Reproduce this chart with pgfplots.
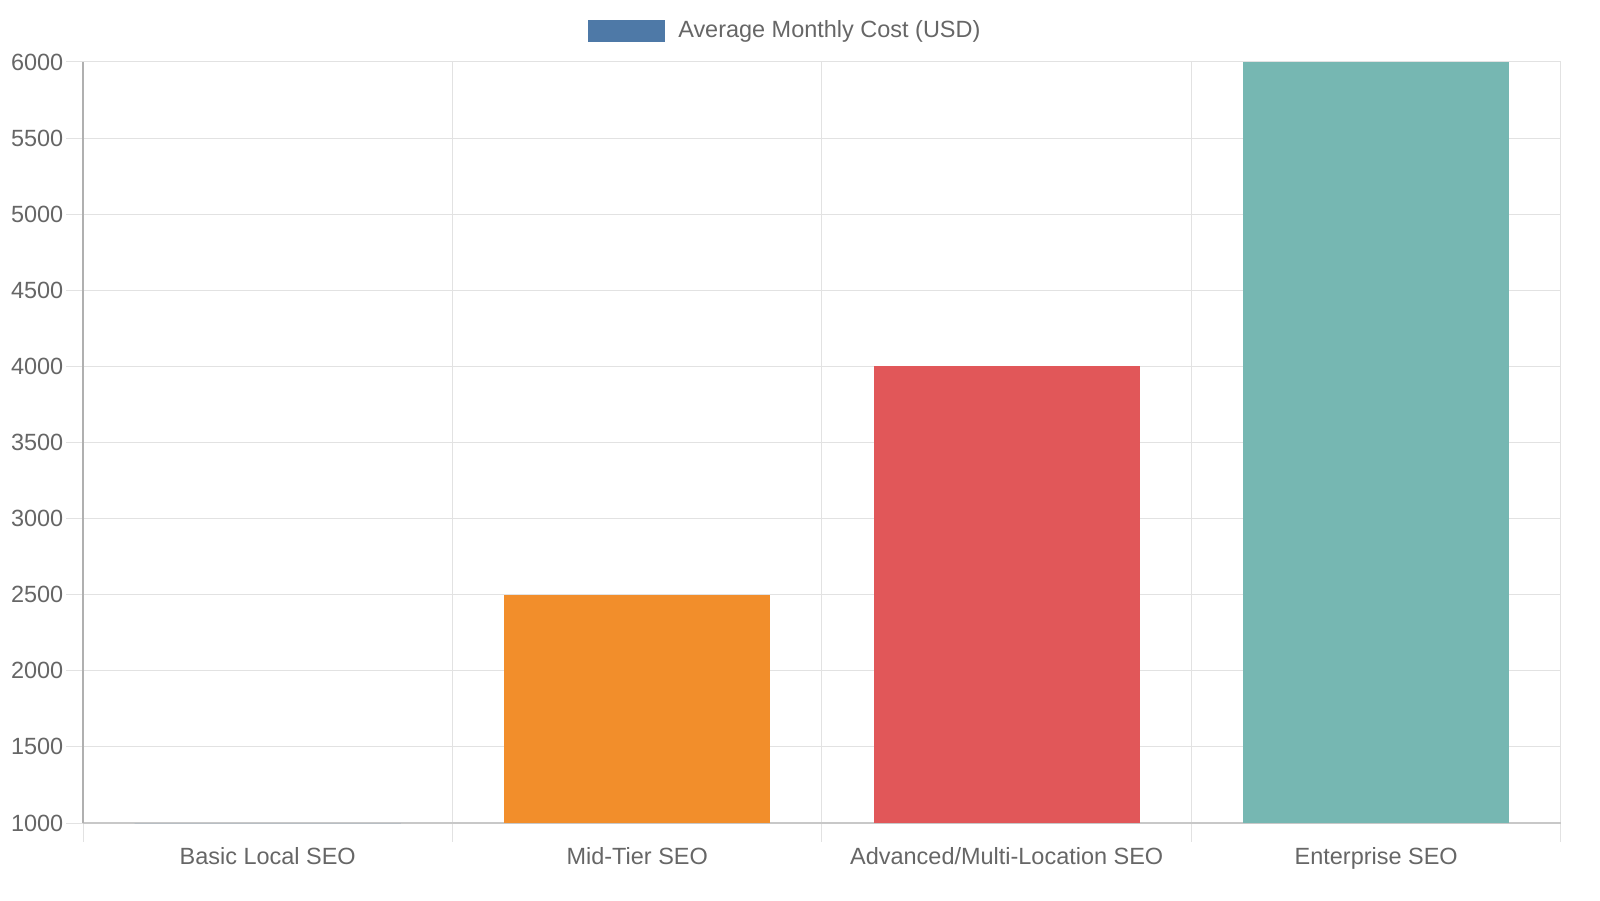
\documentclass[border=0pt]{standalone}
\usepackage{fontspec}
\setmainfont{Liberation Sans}
\usepackage{pgfplots}
\pgfplotsset{compat=1.18}
\definecolor{txt}{HTML}{666666}
\definecolor{gridc}{HTML}{E2E2E2}
\definecolor{yaxc}{HTML}{B0B0B0}
\definecolor{xaxc}{HTML}{C8C8C8}
\definecolor{c1}{HTML}{4E79A7}
\definecolor{c2}{HTML}{F28E2B}
\definecolor{c3}{HTML}{E15759}
\definecolor{c4}{HTML}{76B7B2}
\begin{document}
\begin{tikzpicture}
\begin{axis}[
    at={(62.25pt,57.75pt)}, anchor=south west,
    scale only axis, width=1108.5pt, height=570.75pt,
    xmin=-0.5, xmax=3.5, ymin=1000, ymax=6000,
    axis x line*=bottom, axis y line*=left,
    x axis line style={draw=xaxc, line width=1.5pt, -},
    y axis line style={draw=yaxc, line width=1.5pt, -},
    ytick={1000,1500,...,6000},
    xtick={0,1,2,3},
    xticklabels={Basic Local SEO, Mid-Tier SEO, Advanced/Multi-Location SEO, Enterprise SEO},
    minor xtick={-0.5,0.5,1.5,2.5,3.5},
    xminorgrids=true, ymajorgrids=true,
    grid style={draw=gridc, line width=0.75pt},
    minor grid style={draw=gridc, line width=0.75pt},
    tick align=outside,
    major x tick style={draw=none},
    minor x tick style={draw=gridc, line width=0.75pt},
    y tick style={draw=gridc, line width=0.75pt},
    major tick length=12.75pt, minor tick length=14.25pt,
    tick label style={font=\fontsize{17.6}{19}\selectfont, text=txt},
    yticklabel style={xshift=1.5pt},
    xticklabel style={yshift=-2pt},
    /pgf/number format/1000 sep={},
    /pgf/number format/assume math mode=true,
    ybar, bar width=0.72, bar shift=0pt,
    clip=false,
]
\addplot[fill=c1, draw=none] coordinates {(0,1000)};
\addplot[fill=c2, draw=none] coordinates {(1,2500)};
\addplot[fill=c3, draw=none] coordinates {(2,4000)};
\addplot[fill=c4, draw=none] coordinates {(3,6000)};
\end{axis}
\fill[c1] (441pt,643.5pt) rectangle (498.75pt,660pt);
\node[anchor=west, inner sep=0pt, text=txt, font=\fontsize{17.6}{19}\selectfont] at (508.5pt,651.75pt) {Average Monthly Cost (USD)};
\pgfresetboundingbox
\path[use as bounding box] (0,0) rectangle (1200pt,675pt);
\end{tikzpicture}
\end{document}
